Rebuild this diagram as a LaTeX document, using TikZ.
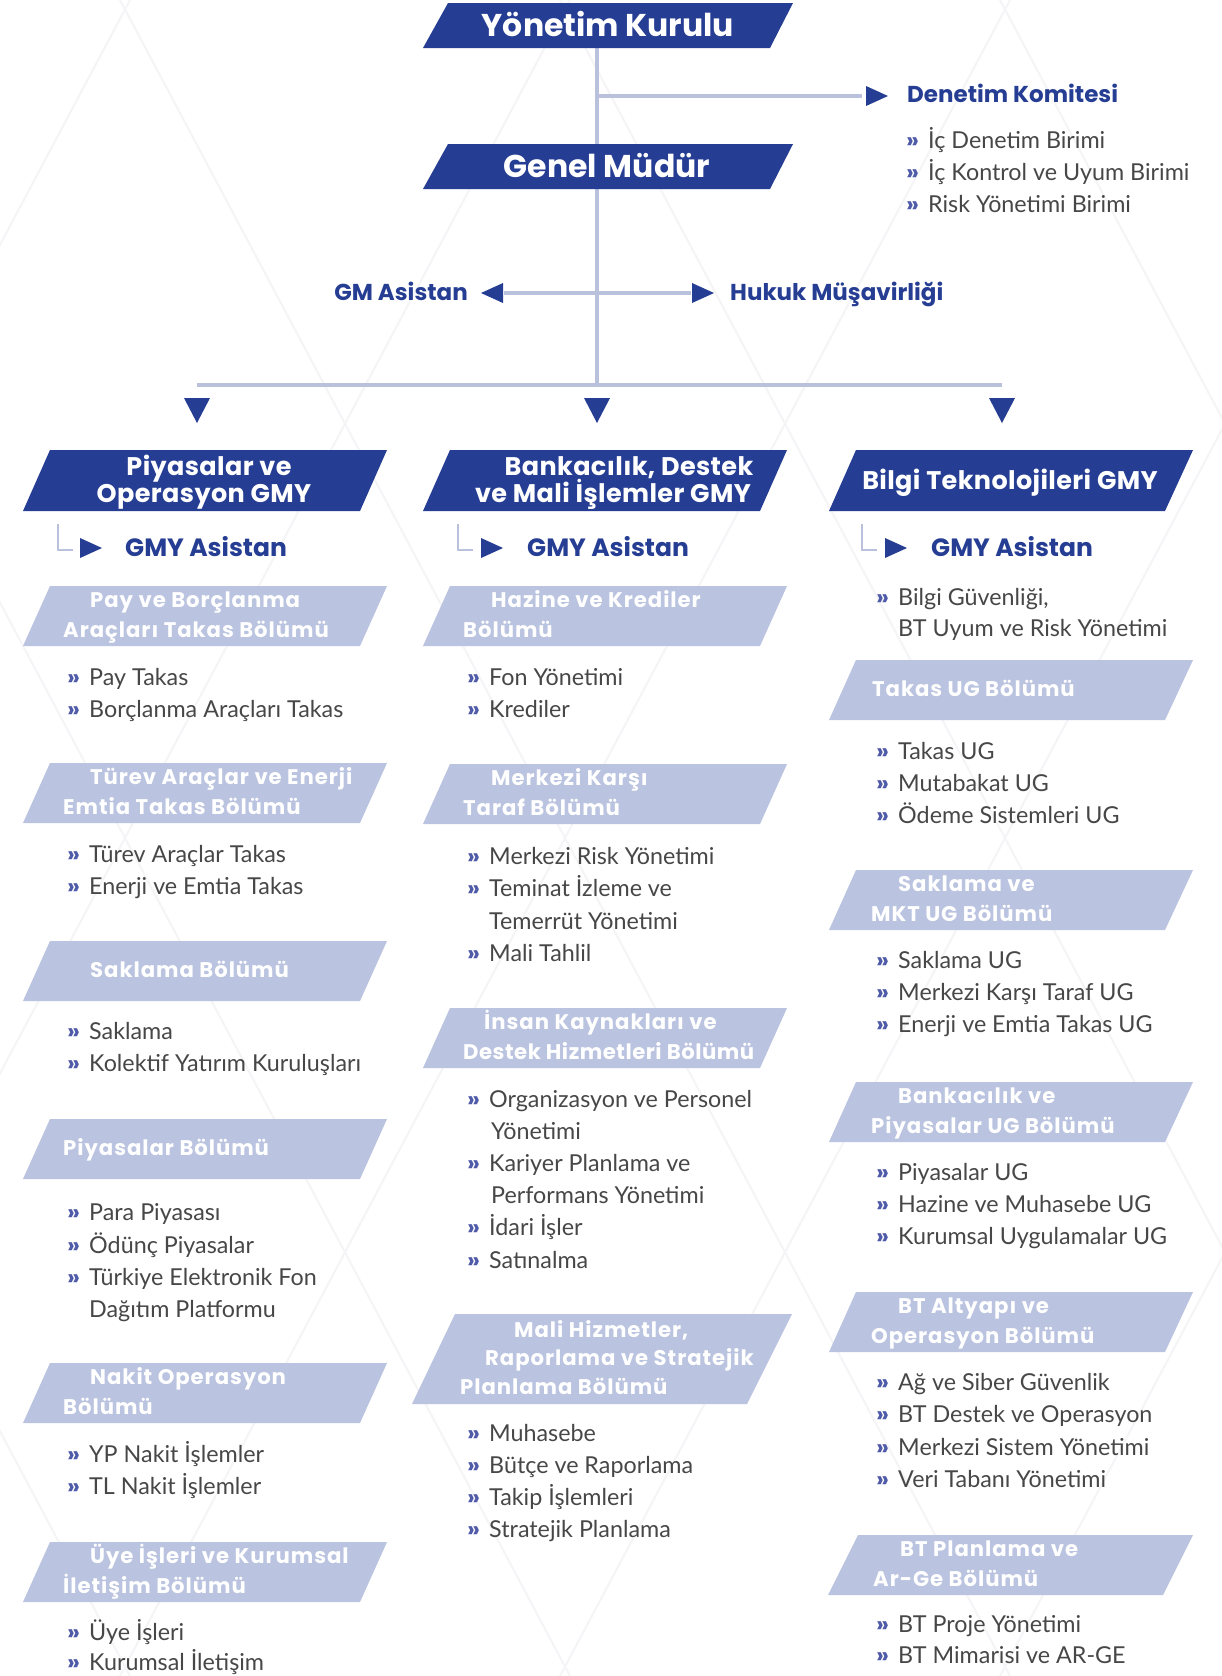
\documentclass[tikz,border=0pt]{standalone}
\usepackage{fontspec}
\setmainfont{Lato}
\newfontfamily\hfont{Poppins}
\newfontfamily\dfont{Poppins}[LetterSpace=4.5]
\newfontfamily\dfontn{Poppins}[LetterSpace=2.5]
\newfontfamily\gfont{Poppins}[LetterSpace=1.5]
\definecolor{dk}{HTML}{253D93}
\definecolor{lt}{HTML}{BAC3DF}
\definecolor{ln}{HTML}{B9C1DD}
\definecolor{tx}{HTML}{474747}
\definecolor{bu}{HTML}{4F5BA8}
\definecolor{bg}{HTML}{F5F5F8}
\tikzset{
 big/.style={font=\hfont\bfseries\fontsize{31.5}{34}\selectfont, text=white, inner sep=0pt, text height=22pt, text depth=0pt},
 gmy/.style={font=\gfont\bfseries\fontsize{25.5}{27}\selectfont, text=white, inner sep=0pt, text height=18pt, text depth=0pt},
 dpt/.style={font=\dfont\bfseries\fontsize{21.2}{22}\selectfont, text=white, inner sep=0pt, text height=15pt, text depth=0pt, anchor=west},
 lbl/.style={font=\hfont\bfseries\fontsize{23}{25}\selectfont, text=dk, inner sep=0pt, text height=16pt, text depth=0pt},
 asis/.style={font=\hfont\bfseries\fontsize{25}{26}\selectfont, text=dk, inner sep=0pt, text height=17.5pt, text depth=0pt, anchor=west},
 itm/.style={font=\fontsize{23.3}{24}\selectfont, text=tx, inner sep=0pt, text height=16.5pt, text depth=0pt, anchor=west},
 bul/.style={font=\hfont\bfseries\fontsize{23}{24}\selectfont, text=bu, inner sep=0pt, text height=16.5pt, text depth=0pt, anchor=west},
 conn/.style={draw=ln, line width=3.3pt},
 lconn/.style={draw=ln, line width=2.6pt},
 tip/.style={fill=dk},
 pat/.style={draw=bg, line width=2pt}
}
% name, xBL, xTL, xTR, xBR, ytop, ybot, fill
\newcommand\pg[8]{%
 \fill[#8] (#2,#7) -- (#3,#6) -- (#4,#6) -- (#5,#7) -- cycle;
 \coordinate (#1) at ({(#2+#4)/2},{(#6+#7)/2});}
% x, y, name, text
\newcommand\bl[4]{%
 \node[bul] (#3b) at (#1-1,#2) {»};
 \node[itm] (#3) at (#1+21,#2) {#4};}
% continuation line: x, y, name, text
\newcommand\cl[4]{\node[itm] (#3) at (#1+21,#2) {#4};}
\begin{document}
\begin{tikzpicture}[x=1pt,y=-1pt]
\useasboundingbox (0,0) rectangle (1221,1676);
\fill[white] (0,0) rectangle (1221,1676);

% ---------- faint background lattice ----------
\foreach \s in {-1200,-760,-320,120,560,1000,1440,1880} {
  \draw[pat] (\s,0) -- (\s+890,1676);
  \draw[pat] (\s+890,0) -- (\s,1676);
}

% ---------- connectors ----------
\coordinate (ykb) at (597,48);
\coordinate (busc) at (597,385);
\coordinate (busl) at (197,385);
\coordinate (busr) at (1002,385);
\coordinate (dkj) at (597,96);
\coordinate (dke) at (862,96);
\coordinate (gal) at (504,293);
\coordinate (gar) at (691,293);
\draw[conn] (ykb) -- (busc);
\draw[conn] (busl) -- (busr);
\draw[conn] (dkj) -- (dke);
\draw[conn] (gal) -- (gar);

\fill[tip] (866,86) -- (888,96) -- (866,106) -- cycle;
\fill[tip] (503,283) -- (481,293) -- (503,303) -- cycle;
\fill[tip] (692,283) -- (714,293) -- (692,303) -- cycle;
\fill[tip] (184,398) -- (210,398) -- (197,423) -- cycle;
\fill[tip] (584,398) -- (610,398) -- (597,423) -- cycle;
\fill[tip] (989,398) -- (1015,398) -- (1002,423) -- cycle;

% ---------- top boxes ----------
\pg{yk}{423}{448}{793}{770}{3}{48}{dk}
\node[big] (ykt) at (608,25.5) {Yönetim Kurulu};
\pg{gm}{423}{448}{793}{770}{144}{189}{dk}
\node[big] (gmt) at (607,166.5) {Genel Müdür};

\node[lbl, anchor=west] (dkom) at (907,94) {Denetim Komitesi};
\bl{907}{140}{dk1}{İç Denetim Birimi}
\bl{907}{172}{dk2}{İç Kontrol ve Uyum Birimi}
\bl{907}{204}{dk3}{Risk Yönetimi Birimi}

\node[lbl, anchor=east] (gma) at (468,292) {GM Asistan};
\node[lbl, anchor=west] (huk) at (730,292) {Hukuk Müşavirliği};

% ---------- GMY boxes ----------
\pg{gl}{23}{50}{387}{360}{450}{511}{dk}
\node[gmy] (gl1) at (209,466) {Piyasalar ve};
\node[gmy] (gl2) at (204,493) {Operasyon GMY};
\pg{gmm}{423}{450}{787}{760}{450}{511}{dk}
\node[gmy] (gm1) at (629,466) {Bankacılık, Destek};
\node[gmy] (gm2) at (613,493) {ve Mali İşlemler GMY};
\pg{gr}{829}{856}{1193}{1165}{450}{511}{dk}
\node[gmy] (gr1) at (1010,480) {Bilgi Teknolojileri GMY};

% ---------- GMY Asistan ----------
\coordinate (la1) at (58,524); \coordinate (la2) at (73,550);
\draw[lconn] (la1) |- (la2);
\fill[tip] (80,538) -- (102,548) -- (80,558) -- cycle;
\node[asis] (ga1) at (125,548) {GMY Asistan};
\coordinate (lb1) at (458,524); \coordinate (lb2) at (473,550);
\draw[lconn] (lb1) |- (lb2);
\fill[tip] (481,538) -- (503,548) -- (481,558) -- cycle;
\node[asis] (ga2) at (527,548) {GMY Asistan};
\coordinate (lc1) at (862,524); \coordinate (lc2) at (877,550);
\draw[lconn] (lc1) |- (lc2);
\fill[tip] (885,538) -- (907,548) -- (885,558) -- cycle;
\node[asis] (ga3) at (931,548) {GMY Asistan};

% ---------- left column ----------
\pg{d1}{23}{50}{387}{360}{586}{646}{lt}
\node[dpt] (d1a) at (90,600) {Pay ve Borçlanma};
\node[dpt] (d1b) at (63,630) {Araçları Takas Bölümü};
\bl{68}{677}{l1}{Pay Takas}
\bl{68}{709}{l2}{Borçlanma Araçları Takas}

\pg{d2}{23}{50}{387}{360}{763}{823}{lt}
\node[dpt] (d2a) at (90,777) {Türev Araçlar ve Enerji};
\node[dpt] (d2b) at (63,807) {Emtia Takas Bölümü};
\bl{68}{854}{l3}{Türev Araçlar Takas}
\bl{68}{886}{l4}{Enerji ve Emtia Takas}

\pg{d3}{23}{50}{387}{360}{941}{1001}{lt}
\node[dpt] (d3a) at (90,970) {Saklama Bölümü};
\bl{68}{1031}{l5}{Saklama}
\bl{68}{1063}{l6}{Kolektif Yatırım Kuruluşları}

\pg{d4}{23}{50}{387}{360}{1119}{1179}{lt}
\node[dpt] (d4a) at (63,1148) {Piyasalar Bölümü};
\bl{68}{1212}{l7}{Para Piyasası}
\bl{68}{1245}{l8}{Ödünç Piyasalar}
\bl{68}{1277}{l9}{Türkiye Elektronik Fon}
\cl{68}{1309}{l10}{Dağıtım Platformu}

\pg{d5}{23}{50}{387}{360}{1363}{1423}{lt}
\node[dpt] (d5a) at (90,1377) {Nakit Operasyon};
\node[dpt] (d5b) at (63,1407) {Bölümü};
\bl{68}{1454}{l11}{YP Nakit İşlemler}
\bl{68}{1486}{l12}{TL Nakit İşlemler}

\pg{d6}{23}{50}{387}{360}{1542}{1602}{lt}
\node[dpt] (d6a) at (90,1556) {Üye İşleri ve Kurumsal};
\node[dpt] (d6b) at (63,1586) {İletişim Bölümü};
\bl{68}{1632}{l13}{Üye İşleri}
\bl{68}{1662}{l14}{Kurumsal İletişim}

% ---------- middle column ----------
\pg{m1}{423}{450}{787}{760}{586}{646}{lt}
\node[dpt] (m1a) at (491,600) {Hazine ve Krediler};
\node[dpt] (m1b) at (463,630) {Bölümü};
\bl{468}{677}{c1}{Fon Yönetimi}
\bl{468}{709}{c2}{Krediler}

\pg{m2}{423}{450}{787}{760}{764}{824}{lt}
\node[dpt] (m2a) at (491,778) {Merkezi Karşı};
\node[dpt] (m2b) at (463,808) {Taraf Bölümü};
\bl{468}{856}{c3}{Merkezi Risk Yönetimi}
\bl{468}{888}{c4}{Teminat İzleme ve}
\cl{468}{921}{c5}{Temerrüt Yönetimi}
\bl{468}{953}{c6}{Mali Tahlil}

\pg{m3}{423}{450}{787}{760}{1008}{1068}{lt}
\node[dpt] (m3a) at (484,1022) {İnsan Kaynakları ve};
\node[dpt, font=\dfontn\bfseries\fontsize{21.2}{22}\selectfont] (m3b) at (463,1052) {Destek Hizmetleri Bölümü};
\bl{468}{1099}{c7}{Organizasyon ve Personel}
\cl{470}{1131}{c8}{Yönetimi}
\bl{468}{1163}{c9}{Kariyer Planlama ve}
\cl{470}{1195}{c10}{Performans Yönetimi}
\bl{468}{1227}{c11}{İdari İşler}
\bl{468}{1260}{c12}{Satınalma}

\pg{m4}{412}{455}{792}{747}{1314}{1404}{lt}
\node[dpt] (m4a) at (514,1330) {Mali Hizmetler,};
\node[dpt] (m4b) at (485,1358) {Raporlama ve Stratejik};
\node[dpt] (m4c) at (460,1387) {Planlama Bölümü};
\bl{468}{1433}{c13}{Muhasebe}
\bl{468}{1465}{c14}{Bütçe ve Raporlama}
\bl{468}{1497}{c15}{Takip İşlemleri}
\bl{468}{1529}{c16}{Stratejik Planlama}

% ---------- right column ----------
\bl{877}{597}{r0}{Bilgi Güvenliği,}
\cl{877}{628}{r00}{BT Uyum ve Risk Yönetimi}

\pg{r1}{829}{856}{1193}{1165}{660}{720}{lt}
\node[dpt] (r1a) at (872,689) {Takas UG Bölümü};
\bl{877}{751}{r1i}{Takas UG}
\bl{877}{783}{r2i}{Mutabakat UG}
\bl{877}{815}{r3i}{Ödeme Sistemleri UG}

\pg{r2}{829}{856}{1193}{1165}{870}{930}{lt}
\node[dpt] (r2a) at (898,884) {Saklama ve};
\node[dpt] (r2b) at (871,914) {MKT UG Bölümü};
\bl{877}{960}{r4i}{Saklama UG}
\bl{877}{992}{r5i}{Merkezi Karşı Taraf UG}
\bl{877}{1024}{r6i}{Enerji ve Emtia Takas UG}

\pg{r3}{829}{856}{1193}{1165}{1082}{1142}{lt}
\node[dpt] (r3a) at (898,1096) {Bankacılık ve};
\node[dpt] (r3b) at (871,1126) {Piyasalar UG Bölümü};
\bl{877}{1172}{r7i}{Piyasalar UG}
\bl{877}{1204}{r8i}{Hazine ve Muhasebe UG}
\bl{877}{1236}{r9i}{Kurumsal Uygulamalar UG}

\pg{r4}{829}{856}{1193}{1165}{1292}{1352}{lt}
\node[dpt] (r4a) at (898,1306) {BT Altyapı ve};
\node[dpt] (r4b) at (871,1336) {Operasyon Bölümü};
\bl{877}{1382}{r10i}{Ağ ve Siber Güvenlik}
\bl{877}{1414}{r11i}{BT Destek ve Operasyon}
\bl{877}{1447}{r12i}{Merkezi Sistem Yönetimi}
\bl{877}{1479}{r13i}{Veri Tabanı Yönetimi}

\pg{r5}{828}{858}{1193}{1163}{1535}{1595}{lt}
\node[dpt] (r5a) at (900,1549) {BT Planlama ve};
\node[dpt] (r5b) at (873,1579) {Ar-Ge Bölümü};
\bl{877}{1624}{r14i}{BT Proje Yönetimi}
\bl{877}{1655}{r15i}{BT Mimarisi ve AR-GE}
\end{tikzpicture}
\end{document}
